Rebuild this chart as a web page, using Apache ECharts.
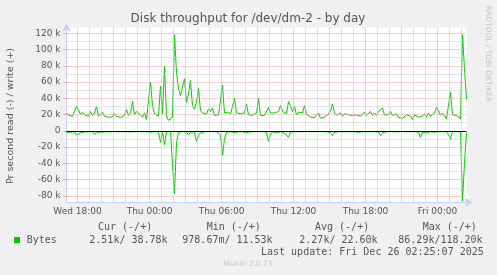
<!DOCTYPE html>
<html><head><meta charset="utf-8">
<script src="https://cdn.jsdelivr.net/npm/echarts@6/dist/echarts.min.js"></script>
<style>html,body{margin:0;padding:0;background:#F0F0F0}#c{width:497px;height:275px}</style>
</head><body><div id="c"></div>
<script>
const chartTitle = 'Disk throughput for /dev/dm-2 - by day';
const yAxisName = 'Pr second read (-) / write (+)';
const startHour = -6.917;   // Wed 17:05, hours relative to Thu 00:00
const endHour = 26.417;     // Fri 02:25
const stepHour = 1 / 6;     // 10-minute samples
const xTickHours = [-6, 0, 6, 12, 18, 24];
const xTickLabels = ['Wed 18:00', 'Thu 00:00', 'Thu 06:00', 'Thu 12:00', 'Thu 18:00', 'Fri 00:00'];
const yTicks = [-80, -60, -40, -20, 0, 20, 40, 60, 80, 100, 120];
const yMin = -88, yMax = 127;

// write bytes/s (k), positive side
const writeK = [
 22, 19, 20.5, 18, 18.5, 30, 28, 20.5, 23, 19.7,
 19, 18, 23.8, 19, 22, 30, 18, 16.4, 23, 18,
 17.2, 16.8, 17.6, 17.2, 21.3, 18, 16.8, 16.4, 15.6, 19,
 26, 19, 22, 36, 19.7, 23.8, 24.6, 19.7, 16.8, 22,
 14, 13, 60, 31, 21, 19.7, 18, 55, 21, 80,
 18, 13, 12.7, 16.8, 118, 72, 52, 43, 43, 64,
 35, 45, 62, 31, 27, 35, 52, 25, 22, 22,
 20.5, 27, 23.8, 28, 19, 20.5, 19.7, 19.7, 56, 22,
 21, 23, 20.5, 22, 40, 22, 20.5, 21, 19.7, 22,
 33, 19.7, 21, 19, 19.7, 22, 40, 19, 18, 19,
 19.7, 29, 22, 19.7, 22, 22, 23.8, 31, 23.8, 25,
 21, 36, 31, 23.8, 30, 19.7, 23, 22, 22, 31,
 20.5, 19.7, 17.2, 19, 16, 19, 22, 15.6, 15.6, 16.8,
 15.6, 21, 25, 33, 22, 19, 17.2, 22, 18, 21,
 19, 19.7, 19.7, 19, 21, 19.7, 22, 18, 15.6, 23,
 19, 21, 23.8, 19, 22, 19, 23.8, 22, 28, 19.7,
 19, 19.7, 23.8, 19, 19, 21, 16.4, 18, 15.6, 18,
 19.7, 19, 18, 14, 19.7, 22, 16.8, 16.8, 18, 21,
 16.8, 22, 18, 16.8, 22, 29, 25, 19, 22, 19.7,
 14.8, 16.8, 47.5, 19.7, 18, 19, 16.8, 14.8, 118.2, 76,
 38.78
];
// read bytes/s (k), drawn on the negative side
const readK = [
 1.6, 1.5, 1.6, 1.0, 1.2, 5, 5, 2.5, 1.0, 1.1,
 1.0, 1.2, 1.6, 1.0, 4, 4, 1.6, 1.0, 1.6, 1.0,
 1.0, 0.9, 1.1, 1.0, 1.0, 1.2, 1.0, 1.0, 0.9, 1.0,
 1.1, 1.0, 1.2, 1.6, 1.0, 1.0, 1.0, 1.1, 1.0, 1.0,
 1.0, 1.0, 1.6, 1.0, 1.0, 1.2, 1.0, 14, 2, 17,
 1.2, 1.0, 1.0, 40, 77, 15, 1.6, 1.0, 1.0, 1.2,
 1.6, 5, 1.6, 1.0, 1.2, 13, 6, 2.5, 1.0, 1.0,
 1.0, 1.0, 1.0, 1.0, 1.0, 1.0, 1.0, 5, 30, 10,
 1.6, 3, 1.0, 1.0, 2, 1.0, 1.0, 1.0, 1.0, 1.0,
 2.5, 1.0, 1.0, 1.0, 1.0, 1.6, 1.0, 1.0, 1.0, 1.0,
 1.6, 13, 4, 1.0, 1.0, 2.5, 1.0, 1.0, 1.0, 2.5,
 1.0, 8, 1.6, 1.0, 1.0, 1.0, 1.0, 1.0, 1.0, 1.0,
 1.0, 1.0, 1.0, 1.0, 1.0, 1.0, 1.0, 1.0, 1.0, 1.0,
 1.0, 1.0, 2.5, 6, 2, 1.0, 1.0, 1.0, 1.0, 1.6,
 1.0, 1.0, 1.0, 1.0, 1.0, 1.6, 1.6, 1.0, 1.0, 1.0,
 1.0, 1.0, 1.0, 1.0, 1.0, 1.0, 1.6, 6, 2.5, 3.5,
 1.0, 1.6, 1.0, 1.0, 1.0, 1.0, 1.0, 1.0, 1.0, 1.0,
 1.0, 1.0, 1.0, 1.0, 1.0, 1.0, 1.6, 8, 1.6, 3.5,
 2.5, 1.6, 1.0, 2.5, 1.6, 3.5, 1.0, 1.0, 1.0, 1.0,
 1.0, 5, 10, 1.0, 1.0, 1.0, 1.0, 1.0, 86.29, 40,
 2.51
];

const legendHeaders = ['Cur (-/+)', 'Min (-/+)', 'Avg (-/+)', 'Max (-/+)'];
const legendName = 'Bytes';
const legendValues = ['2.51k/ 38.78k', '978.67m/ 11.53k', '2.27k/ 22.60k', '86.29k/118.20k'];
const lastUpdate = 'Last update: Fri Dec 26 02:25:07 2025';
const footer = 'Munin 2.0.73';
const watermark = 'RRDTOOL / TOBI OETIKER';

const green = '#00CC00';
const txt = '#555555';
const axisCol = '#C9D0F3';
const minorCol = '#C8C8C8';
const majorCol = '#EBA0A0';

const times = writeK.map((_, i) => startHour + i * stepHour);
const writeData = writeK.map((v, i) => [times[i], v]);
const readData = readK.map((v, i) => [times[i], -v]);

// grid lines
const gridLines = [];
for (let h = Math.ceil(startHour); h <= Math.floor(endHour); h++) {
  const major = h % 3 === 0;
  gridLines.push([{coord: [h, yMin], lineStyle: {color: major ? majorCol : minorCol}}, {coord: [h, yMax]}]);
}
for (let v = -80; v <= 120; v += 10) {
  const major = v % 20 === 0;
  gridLines.push([{coord: [startHour, v], lineStyle: {color: major ? majorCol : minorCol}}, {coord: [endHour, v]}]);
}

const chart = echarts.init(document.getElementById('c'), null, {renderer: 'canvas'});
chart.setOption({
  animation: false,
  backgroundColor: '#F0F0F0',
  grid: {left: 66.5, top: 27.5, width: 400, height: 175, show: true, backgroundColor: '#FFFFFF', borderWidth: 0},
  xAxis: {
    type: 'value', min: startHour, max: endHour,
    axisLine: {show: true, onZero: false, lineStyle: {color: axisCol, width: 1}, symbol: ['none', 'arrow'], symbolSize: [7, 8], symbolOffset: [0, 6]},
    axisTick: {show: false}, splitLine: {show: false},
    axisLabel: {
      customValues: xTickHours,
      formatter: v => { const k = xTickHours.findIndex(h => Math.abs(h - v) < 1e-6); return k >= 0 ? xTickLabels[k] : ''; },
      color: txt, fontFamily: 'DejaVu Sans', fontSize: 9, margin: 5
    }
  },
  yAxis: {
    type: 'value', min: yMin, max: yMax,
    axisLine: {show: true, onZero: false, lineStyle: {color: axisCol, width: 1}, symbol: ['none', 'arrow'], symbolSize: [7, 8], symbolOffset: [0, 4]},
    axisTick: {show: true, customValues: yTicks, length: 3, lineStyle: {color: majorCol, width: 1}},
    splitLine: {show: false},
    axisLabel: {
      customValues: yTicks,
      formatter: v => v === 0 ? '0' : v + ' k',
      color: txt, fontFamily: 'DejaVu Sans', fontSize: 9, margin: 6
    }
  },
  series: [
    {type: 'line', data: [[startHour, 0]], symbol: 'none', lineStyle: {width: 0}, silent: true, z: 1,
     markLine: {silent: true, symbol: ['none', 'none'], label: {show: false}, animation: false,
       lineStyle: {type: [1, 1], width: 1}, data: gridLines}},
    {type: 'line', name: 'write', data: writeData, symbol: 'none', lineStyle: {color: green, width: 1}, z: 2},
    {type: 'line', name: 'read', data: readData, symbol: 'none', lineStyle: {color: green, width: 1}, z: 2},
    {type: 'line', data: [[startHour, 0]], symbol: 'none', lineStyle: {width: 0}, silent: true, z: 3,
     markLine: {silent: true, symbol: ['none', 'none'], label: {show: false}, animation: false,
       lineStyle: {type: 'solid', width: 1, color: '#000000'}, data: [[{coord: [startHour, 0]}, {coord: [endHour, 0]}]]}}
  ],
  graphic: [
    {type: 'text', x: 248, y: 19, style: {text: chartTitle, fill: txt, font: '12px "DejaVu Sans"', align: 'center', verticalAlign: 'middle'}},
    {type: 'text', x: 11, y: 116, rotation: Math.PI / 2, style: {text: yAxisName, fill: txt, font: '9.5px "DejaVu Sans"', align: 'center', verticalAlign: 'middle'}},
    {type: 'text', x: 488, y: 54, rotation: -Math.PI / 2, style: {text: watermark, fill: '#C4C4C4', font: '7.5px "DejaVu Sans"', align: 'center', verticalAlign: 'middle'}},
    ...legendHeaders.map((t, k) => ({type: 'text', x: [98, 206.7, 315, 422.7][k], y: 227.5, style: {text: t, fill: txt, font: '10px "DejaVu Sans Mono"', align: 'left', verticalAlign: 'middle'}})),
    {type: 'rect', shape: {x: 14, y: 237, width: 6, height: 6}, style: {fill: green}},
    {type: 'text', x: 26.7, y: 240, style: {text: legendName, fill: txt, font: '10px "DejaVu Sans Mono"', align: 'left', verticalAlign: 'middle'}},
    ...legendValues.map((t, k) => ({type: 'text', x: [89.3, 182.3, 299.3, 398.3][k], y: 240, style: {text: t, fill: txt, font: '10px "DejaVu Sans Mono"', align: 'left', verticalAlign: 'middle'}})),
    {type: 'text', x: 261, y: 252, style: {text: lastUpdate, fill: txt, font: '10px "DejaVu Sans Mono"', align: 'left', verticalAlign: 'middle'}},
    {type: 'text', x: 248, y: 264.5, style: {text: footer, fill: '#C8C8C8', font: '7.5px "DejaVu Sans"', align: 'center', verticalAlign: 'middle'}}
  ]
});
</script></body></html>
